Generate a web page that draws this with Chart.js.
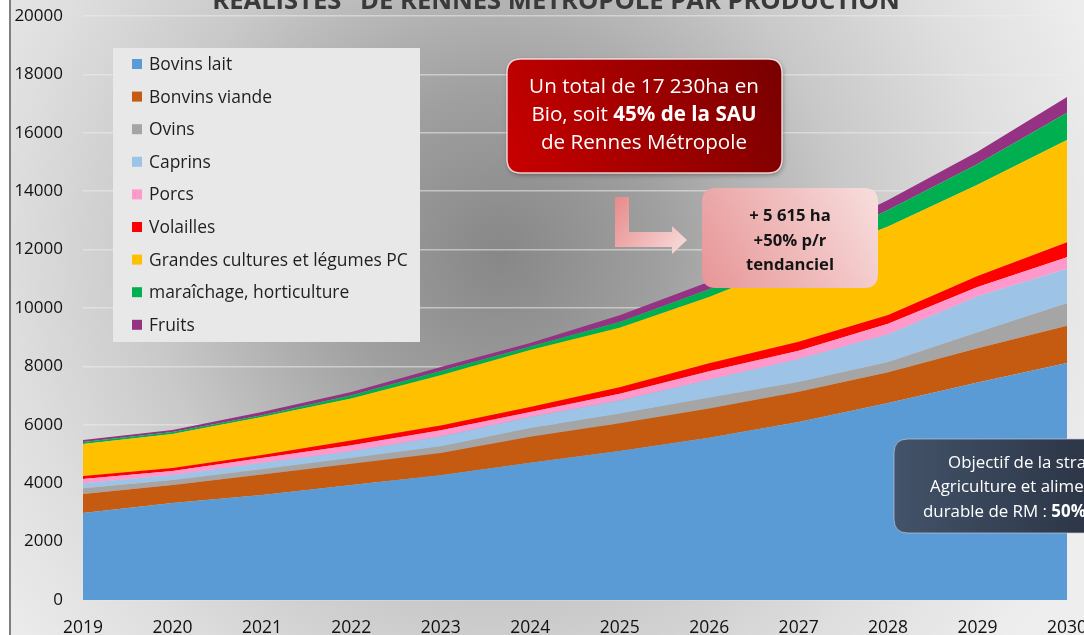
<!DOCTYPE html>
<html><head><meta charset="utf-8">
<script src="https://cdn.jsdelivr.net/npm/chart.js@4.4.1/dist/chart.umd.min.js"></script>
<style>html,body{margin:0;padding:0;background:#fff;overflow:hidden}#wrap{width:1084px;height:635px;position:relative}canvas{display:block}</style>
</head><body><div id="wrap"><canvas id="c" width="1084" height="635"></canvas></div>
<script>
const years = ['2019','2020','2021','2022','2023','2024','2025','2026','2027','2028','2029','2030'];
const bovinsLait      = [2980,3320,3600,3940,4270,4700,5100,5560,6100,6750,7450,8120];
const bovinsViande    = [650,620,700,730,760,890,950,1000,1030,1050,1170,1270];
const ovins           = [200,170,180,190,230,290,330,370,340,350,550,780];
const caprins         = [170,170,210,230,340,390,450,610,780,950,1230,1170];
const porcs           = [140,140,170,210,210,170,230,290,290,360,320,400];
const volailles       = [105,100,110,160,170,170,230,280,300,300,380,510];
const grandesCultures = [1095,1165,1300,1440,1720,1950,2030,2270,2760,3030,3120,3500];
const maraichage      = [70,65,60,110,140,120,200,260,300,570,710,940];
const fruits          = [70,70,110,110,140,120,230,260,300,340,420,540];
const seriesLabels = ['Bovins lait','Bonvins viande','Ovins','Caprins','Porcs','Volailles','Grandes cultures et légumes PC','maraîchage, horticulture','Fruits'];
const seriesColors = ['#5b9bd5','#c55a11','#a5a5a5','#9dc3e6','#ff99cc','#ff0000','#ffc000','#00b050','#953284'];
const seriesData = [bovinsLait,bovinsViande,ovins,caprins,porcs,volailles,grandesCultures,maraichage,fruits];
const yTicks = {min:0, max:20000, step:2000};
const titleText = 'RÉALISTES" DE RENNES MÉTROPOLE PAR PRODUCTION';
const redBoxLines = [[{t:'Un total de 17 230ha en',b:false}],[{t:'Bio, soit ',b:false},{t:'45% de la SAU',b:true}],[{t:'de Rennes Métropole',b:false}]];
const pinkBoxLines = [[{t:'+ 5 615 ha',b:true}],[{t:'+50% p/r',b:true}],[{t:'tendanciel',b:true}]];
const darkBoxLines = [[{t:'Objectif de la stratégie',b:false}],[{t:'Agriculture et alimentation',b:false}],[{t:'durable de RM : ',b:false},{t:'50%',b:true},{t:' de la SAU en bio',b:false}]];

const FONT = "'Open Sans', 'Liberation Sans', sans-serif";

function segWidth(ctx, segs, size){
  let w=0; for(const s of segs){ctx.font=(s.b?'bold ':'')+size+'px '+FONT; w+=ctx.measureText(s.t).width;} return w;
}
function fitSize(ctx, segs, target){ return 100*target/segWidth(ctx,segs,100); }
function drawSegs(ctx, segs, x, y, size, color, align){
  const w = segWidth(ctx,segs,size);
  let cx = align==='center' ? x - w/2 : x;
  ctx.fillStyle=color; ctx.textBaseline='middle'; ctx.textAlign='left';
  for(const s of segs){ctx.font=(s.b?'bold ':'')+size+'px '+FONT; ctx.fillText(s.t,cx,y); cx+=ctx.measureText(s.t).width;}
}
function rrect(ctx,x,y,w,h,r){
  ctx.beginPath(); ctx.moveTo(x+r,y); ctx.lineTo(x+w-r,y); ctx.quadraticCurveTo(x+w,y,x+w,y+r);
  ctx.lineTo(x+w,y+h-r); ctx.quadraticCurveTo(x+w,y+h,x+w-r,y+h); ctx.lineTo(x+r,y+h);
  ctx.quadraticCurveTo(x,y+h,x,y+h-r); ctx.lineTo(x,y+r); ctx.quadraticCurveTo(x,y,x+r,y); ctx.closePath();
}

const bgPlugin = {
  id:'bg',
  beforeDraw(chart){
    const ctx=chart.ctx, W=chart.width, H=chart.height;
    ctx.save();
    const g=ctx.createRadialGradient(500,255,0,500,255,640);
    g.addColorStop(0,'#878787'); g.addColorStop(0.25,'#9f9f9f'); g.addColorStop(0.55,'#c9c9c9');
    g.addColorStop(0.78,'#dfdfdf'); g.addColorStop(1,'#eeeeee');
    ctx.fillStyle=g; ctx.fillRect(0,0,W,H);
    ctx.fillStyle='#ffffff'; ctx.fillRect(0,0,9,H);
    ctx.fillStyle='#7f7f7f'; ctx.fillRect(9,0,2,H);
    const ts = fitSize(ctx,[{t:titleText,b:true}],688);
    ctx.font='bold '+ts+'px '+FONT; ctx.fillStyle='#3a3a3a'; ctx.textAlign='center'; ctx.textBaseline='alphabetic';
    ctx.fillText(titleText,556,9);
    ctx.restore();
  },
  afterDraw(chart){
    const ctx=chart.ctx;
    ctx.save();
    ctx.fillStyle='#e8e8e8'; ctx.fillRect(113,48,307,294);
    const ls = fitSize(ctx,[{t:seriesLabels[6],b:false}],259);
    chart.data.datasets.forEach((ds,i)=>{
      const y = 64 + i*32.6;
      ctx.fillStyle=ds.backgroundColor; ctx.fillRect(132,y-5,10,10);
      drawSegs(ctx,[{t:ds.label,b:false}],149,y+1,ls,'#1f1f1f','left');
    });
    ctx.save();
    ctx.shadowColor='rgba(0,0,0,0.35)'; ctx.shadowBlur=5; ctx.shadowOffsetX=1; ctx.shadowOffsetY=2;
    let g=ctx.createLinearGradient(782,59,507,173); g.addColorStop(0,'#780000'); g.addColorStop(1,'#c90000');
    rrect(ctx,507,59,275,114,14); ctx.fillStyle=g; ctx.fill();
    ctx.restore();
    rrect(ctx,507,59,275,114,14); ctx.strokeStyle='rgba(255,235,235,0.85)'; ctx.lineWidth=1.5; ctx.stroke();
    const rs = fitSize(ctx,redBoxLines[0],230);
    [87,115,143].forEach((y,i)=>drawSegs(ctx,redBoxLines[i],644,y,rs,'#ffffff','center'));
    g=ctx.createLinearGradient(615,197,687,250); g.addColorStop(0,'#e88a8a'); g.addColorStop(1,'#f8dcdc');
    ctx.beginPath(); ctx.moveTo(615,197); ctx.lineTo(629,197); ctx.lineTo(629,232); ctx.lineTo(672,232); ctx.lineTo(672,226);
    ctx.lineTo(687,240); ctx.lineTo(672,254); ctx.lineTo(672,247); ctx.lineTo(615,247); ctx.closePath(); ctx.fillStyle=g; ctx.fill();
    g=ctx.createLinearGradient(878,188,702,288); g.addColorStop(0,'#f8dede'); g.addColorStop(1,'#e79596');
    rrect(ctx,702,188,176,100,14); ctx.fillStyle=g; ctx.fill();
    const ps = fitSize(ctx,pinkBoxLines[2],88);
    [216,241,265].forEach((y,i)=>drawSegs(ctx,pinkBoxLines[i],790,y,ps,'#141414','center'));
    g=ctx.createLinearGradient(894,0,1084,0); g.addColorStop(0,'#435369'); g.addColorStop(1,'#2c3647');
    rrect(ctx,894,439,260,94,14); ctx.fillStyle=g; ctx.fill();
    ctx.strokeStyle='rgba(190,200,215,0.7)'; ctx.lineWidth=1; ctx.stroke();
    const ds = fitSize(ctx,[{t:'durable de RM : ',b:false},{t:'50%',b:true}],163);
    [[948,463],[930,487],[923,512]].forEach((p,i)=>drawSegs(ctx,darkBoxLines[i],p[0],p[1],ds,'#ffffff','left'));
    ctx.restore();
  }
};

new Chart(document.getElementById('c'),{
  type:'line',
  data:{
    labels:years,
    datasets:seriesData.map((d,i)=>({label:seriesLabels[i],data:d,backgroundColor:seriesColors[i],borderColor:seriesColors[i],
      borderWidth:0,pointRadius:0,fill:i===0?'origin':'-1',tension:0}))
  },
  options:{
    responsive:false, animation:false, devicePixelRatio:1,
    layout:{padding:{left:0,right:17,top:16,bottom:0}},
    plugins:{legend:{display:false},tooltip:{enabled:false},title:{display:false}},
    scales:{
      x:{offset:false, grid:{display:false,drawTicks:false}, border:{display:false},
        ticks:{color:'#111111',font:{family:FONT,size:17.5},padding:18,maxRotation:0,autoSkip:false},
        afterFit(s){s.height=35; s.paddingLeft=0; s.paddingRight=0;}},
      y:{stacked:true, min:yTicks.min, max:yTicks.max,
        ticks:{stepSize:yTicks.step,color:'#111111',font:{family:FONT,size:17},padding:20,callback:v=>String(v)},
        grid:{color:'rgba(236,236,236,0.55)',lineWidth:1.5,drawTicks:false}, border:{display:false},
        afterFit(s){s.width=83; s.paddingTop=0; s.paddingBottom=0;}}
    }
  },
  plugins:[bgPlugin]
});
</script>
</body></html>
